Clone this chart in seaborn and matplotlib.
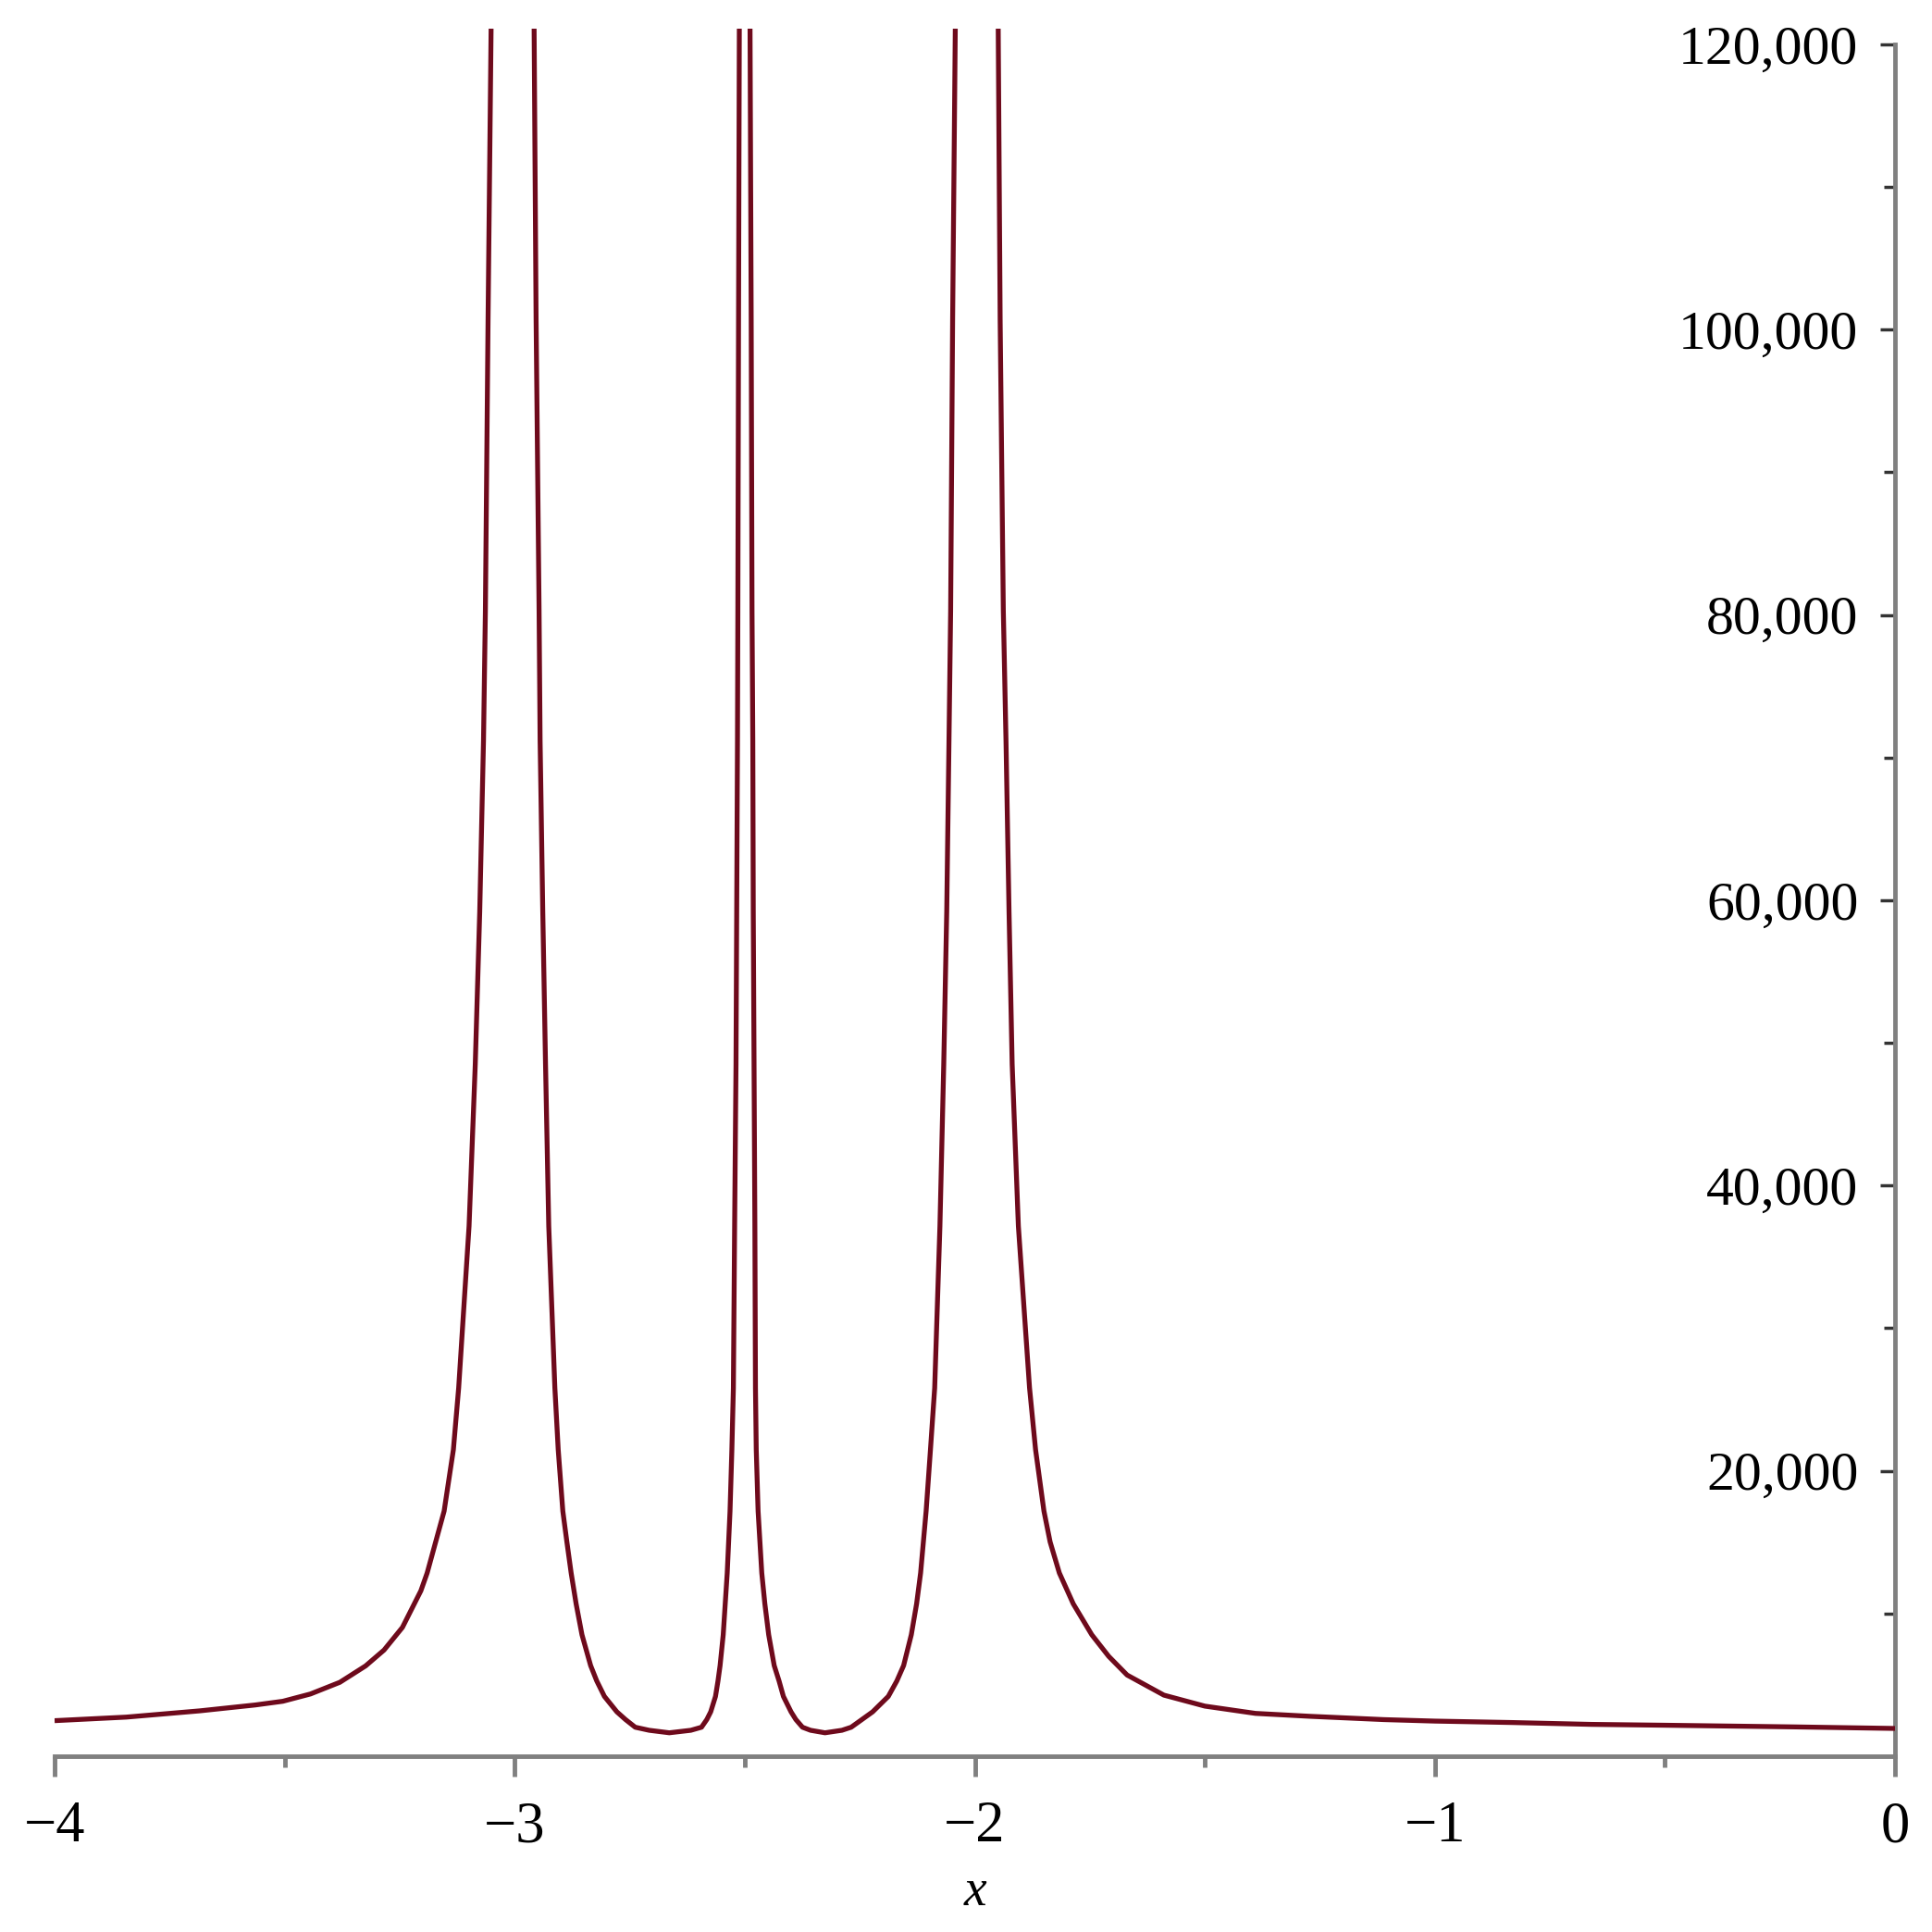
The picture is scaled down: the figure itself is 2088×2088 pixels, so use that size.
import numpy as np
import pandas as pd
import matplotlib
matplotlib.use("Agg")
import matplotlib.pyplot as plt
import seaborn as sns
from matplotlib.ticker import FixedLocator

# ---------------- data ----------------
# branch left of the pole near x = -3
b1_x = [-4.0, -3.844, -3.684, -3.564, -3.504, -3.444, -3.38, -3.324, -3.284, -3.244,
        -3.204, -3.1903, -3.1534, -3.1333, -3.1218, -3.0992, -3.0857, -3.076, -3.0678,
        -3.0637, -3.0579, -3.0513]
b1_y = [2490, 2740, 3180, 3590, 3850, 4360, 5180, 6330, 7440, 9030,
        11590, 12840, 17180, 21480, 25810, 37160, 48510, 59210, 71200,
        80290, 100700, 121100]

# branch between the poles near -3 and -2.5
b2_x = [-2.9578, -2.9535, -2.947, -2.9448, -2.939, -2.933, -2.926, -2.9127, -2.9054, -2.8954,
        -2.8866, -2.8773, -2.8665, -2.8538, -2.835, -2.8216, -2.805, -2.778, -2.7593, -2.738,
        -2.7077, -2.664, -2.6172, -2.594, -2.5824, -2.574, -2.5636, -2.5582, -2.5536, -2.5468,
        -2.5381, -2.532, -2.528, -2.5247, -2.522, -2.519, -2.5175, -2.5158, -2.515, -2.5135,
        -2.5118]
b2_y = [121100, 100700, 80290, 71200, 59210, 48510, 37160, 25810, 21480, 17180,
        15020, 12840, 10680, 8515, 6355, 5270, 4190, 3110, 2572, 2030,
        1816, 1640, 1816, 2030, 2572, 3110, 4190, 5270, 6355, 8515,
        12840, 17180, 21480, 25810, 37160, 48510, 59210, 71200, 80290, 100700,
        121100]

# branch between the poles near -2.5 and -2
b3_x = [-2.4885, -2.486, -2.4842, -2.4825, -2.4815, -2.4798, -2.478, -2.4767, -2.475, -2.471,
        -2.463, -2.4563, -2.448, -2.436, -2.4254, -2.416, -2.3994, -2.389, -2.3745, -2.357,
        -2.3256, -2.2888, -2.2687, -2.2452, -2.222, -2.188, -2.1695, -2.1547, -2.138, -2.1265,
        -2.1178, -2.1058, -2.0964, -2.0872, -2.0758, -2.0675, -2.061, -2.0561, -2.0525, -2.0482,
        -2.0424]
b3_y = [121100, 100700, 80290, 71200, 59210, 48510, 37160, 25810, 21480, 17180,
        12840, 10680, 8515, 6355, 5270, 4190, 3110, 2572, 2030, 1816,
        1640, 1816, 2030, 2572, 3110, 4190, 5270, 6355, 8515, 10680,
        12840, 17180, 21480, 25810, 37160, 48510, 59210, 71200, 80290, 100700,
        121100]

# branch right of the pole near -2
b4_x = [-1.9491, -1.9449, -1.938, -1.9322, -1.9256, -1.9188, -1.9053, -1.881, -1.8679, -1.8497,
        -1.8363, -1.8162, -1.786, -1.7458, -1.709, -1.669, -1.589, -1.5, -1.39, -1.271,
        -1.111, -1.0, -0.833, -0.66, -0.5, -0.218, 0.0]
b4_y = [121100, 100700, 80290, 71200, 59210, 48510, 37160, 25810, 21480, 17180,
        15020, 12840, 10680, 8515, 7000, 5690, 4280, 3510, 3000, 2795,
        2564, 2460, 2360, 2230, 2170, 2053, 1945]

x_ticks = [-4, -3, -2, -1, 0]
x_tick_labels = ["\u22124", "\u22123", "\u22122", "\u22121", "0"]
x_minor_ticks = [-3.5, -2.5, -1.5, -0.5]
y_ticks = [20000, 40000, 60000, 80000, 100000, 120000]
y_tick_labels = ["20,000", "40,000", "60,000", "80,000", "100,000", "120,000"]
y_minor_ticks = [10000, 30000, 50000, 70000, 90000, 110000]
x_label = "x"

# ---------------- figure ----------------
sns.set_style("white")
plt.rcParams["font.family"] = ["Liberation Serif", "DejaVu Serif"]

frames = []
for i, (xs, ys) in enumerate([(b1_x, b1_y), (b2_x, b2_y), (b3_x, b3_y), (b4_x, b4_y)]):
    frames.append(pd.DataFrame({"x": xs, "y": ys, "branch": i}))
df = pd.concat(frames, ignore_index=True)

fig = plt.figure(figsize=(20.88, 20.88), dpi=100)
ax = fig.add_axes([0.02826, 0.0910, 0.95259, 0.89415])

curve_color = "#6E0A1C"
sns.lineplot(data=df, x="x", y="y", units="branch", estimator=None, sort=False,
             color=curve_color, linewidth=3.8, ax=ax, legend=False)
for ln in ax.lines:
    ln.set_solid_joinstyle("round")
    ln.set_solid_capstyle("butt")

ax.set_xlim(-4, 0)
ax.set_ylim(0, 121100)

axis_color = "#808080"
for s in ["top", "right"]:
    ax.spines[s].set_visible(False)
ax.spines["left"].set_position(("data", 0))
ax.spines["bottom"].set_position(("data", 0))
ax.spines["left"].set_bounds(0, 120000)
ax.spines["bottom"].set_bounds(-4, 0)
for s in ["left", "bottom"]:
    ax.spines[s].set_color(axis_color)
    ax.spines[s].set_linewidth(3.5)
    ax.spines[s].set_zorder(1)

ax.xaxis.set_major_locator(FixedLocator(x_ticks))
ax.xaxis.set_minor_locator(FixedLocator(x_minor_ticks))
ax.set_xticklabels(x_tick_labels)
ax.yaxis.set_major_locator(FixedLocator(y_ticks))
ax.yaxis.set_minor_locator(FixedLocator(y_minor_ticks))
ax.set_yticklabels(y_tick_labels)

ax.tick_params(axis="x", which="major", direction="out", length=15.8, width=3.5,
               color=axis_color, labelsize=45, pad=19, bottom=True, labelcolor="black")
ax.tick_params(axis="x", which="minor", direction="out", length=8.6, width=3.5,
               color=axis_color, bottom=True)
ax.tick_params(axis="y", which="major", direction="out", length=11.5, width=2.5,
               color="#333333", labelsize=43, pad=17, left=True, labelcolor="black")
ax.tick_params(axis="y", which="minor", direction="out", length=8.6, width=2.5,
               color="#333333", left=True)

ax.set_xlabel(x_label, fontstyle="italic", fontsize=40, color="black")
ax.xaxis.label.set_va("center")
ax.xaxis.set_label_coords(0.5, -0.0787)
ax.set_ylabel("")
ax.grid(False)

fig.savefig("out.png", dpi=100, facecolor="white")
